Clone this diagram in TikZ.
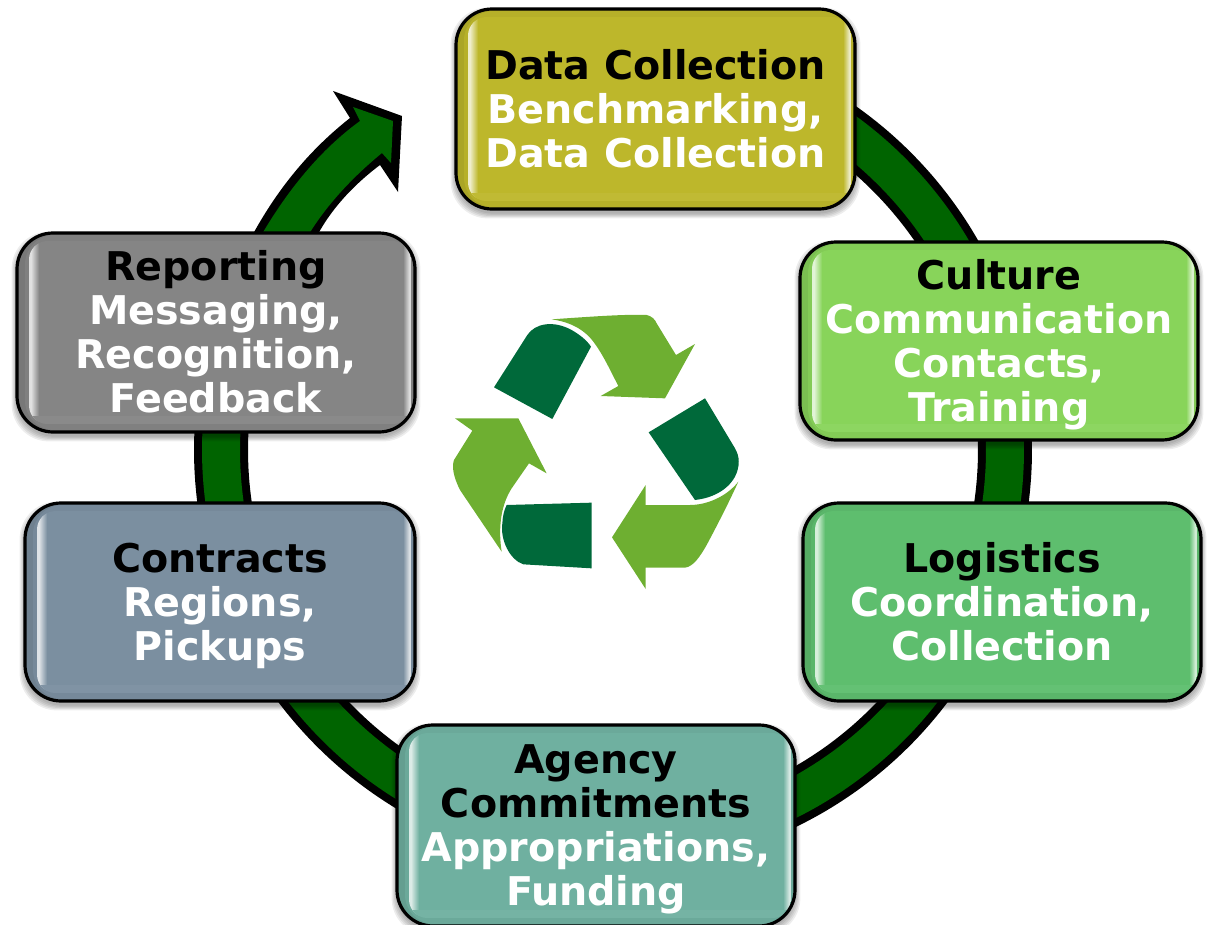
\documentclass[tikz,border=0pt]{standalone}
\usepackage{fontspec}
\setmainfont{DejaVu Sans}
\definecolor{cdata}{HTML}{BDB72B}
\definecolor{cculture}{HTML}{88D45A}
\definecolor{clog}{HTML}{5EBE6E}
\definecolor{cagency}{HTML}{6FB0A0}
\definecolor{ccontract}{HTML}{7B8FA0}
\definecolor{creport}{HTML}{858585}
\definecolor{ringgreen}{HTML}{006400}
\definecolor{leaflight}{HTML}{6EAF31}
\definecolor{leafdark}{HTML}{00693A}
\tikzset{
  ringseg/.style={draw=black,line width=6pt,double=ringgreen,double distance=28.5pt},
  boxnode/.style={draw=black,line width=2.4pt,rounded corners=27pt,inner sep=0pt,align=center,
     font=\fontsize{29.7}{33}\selectfont\bfseries,text=white},
  leafa/.style={fill=leaflight,draw=none},
  leafb/.style={fill=leafdark,draw=none}
}
\newcommand{\ringarc}[3]{\draw[ringseg] plot[domain=#1:#2,samples=60,smooth] ({613+#3*cos(\x)},{450+#3*sin(\x)});}
\newcommand{\bx}[7]{%
  \pgfmathsetmacro{\cxx}{(#2+#4)/2}\pgfmathsetmacro{\cyy}{(#3+#5)/2}
  \pgfmathsetmacro{\ww}{(#4-#2)*0.75}\pgfmathsetmacro{\hh}{(#5-#3)*0.75}
  \foreach \s in {9,7,5,3,1}{\fill[black,opacity=0.07,rounded corners=28pt] ({#2-\s*0.6},{#3+4-\s*0.6}) rectangle ({#4+\s*0.6},{#5+4+\s*0.6});}
  \fill[#6!90!black,rounded corners=27pt] (#2,#3) rectangle (#4,#5);
  \fill[#6!96!black,rounded corners=22pt] ({#2+8},{#3+2}) rectangle ({#4-2},{#5-2});
  \begin{scope}
    \clip[rounded corners=14pt] ({#2+12},{#3+8}) rectangle ({#4-4},{#5-8});
    \fill[#6] ({#2+12},{#3+8}) rectangle ({#4-4},{#5-8});
    \shade[left color=#6!25!white,right color=#6] ({#2+14},{#3+8}) rectangle ({#2+22},{#5-8});
    \fill[#6!25!white] ({#2+12},{#3+8}) rectangle ({#2+14},{#5-8});
    \shade[left color=#6,right color=#6!30!white] ({#4-12},{#3+8}) rectangle ({#4-6},{#5-8});
    \fill[#6!30!white] ({#4-6},{#3+8}) rectangle ({#4-4},{#5-8});
    \fill[#6!96!white] ({#2+12},{#5-16}) rectangle ({#4-4},{#5-8});
  \end{scope}
  \node[boxnode,minimum width=\ww pt,minimum height=\hh pt] (#1) at (\cxx,\cyy) {\rule{0pt}{28pt}#7\rule[-6.5pt]{0pt}{6.5pt}};
}
\newcommand{\hd}[1]{\textcolor{black}{#1}}
\begin{document}
\begin{tikzpicture}[x=0.75pt,y=-0.75pt]
\useasboundingbox (0,0) rectangle (1208,925);
% ring connectors
\ringarc{-83}{-16}{394}
\ringarc{-16}{21}{392}
\ringarc{21}{93}{392}
\ringarc{93}{159}{392}
\ringarc{159}{197}{392}
% returning arrow
\fill[black] (253,234) .. controls (280,185) and (312,148) .. (350,118) -- (333,91) -- (402,116) -- (398,192) -- (380,165) .. controls (360,180) and (335,203) .. (318,234) -- cycle;
\fill[ringgreen] (262,234) .. controls (288,190) and (320,150) .. (360,121) -- (353,107) -- (393,121) -- (391,163) -- (382,153) .. controls (355,175) and (328,203) .. (309,234) -- cycle;
% boxes
\bx{data}{456}{9}{855}{209}{cdata}{\hd{Data Collection}\\Benchmarking,\\Data Collection}
\bx{culture}{800}{242}{1198}{440}{cculture}{\hd{Culture}\\Communication\\Contacts,\\Training}
\bx{logistics}{803}{503}{1201}{701}{clog}{\hd{Logistics}\\Coordination,\\Collection}
\bx{agency}{397}{725}{795}{926}{cagency}{\hd{Agency}\\\hd{Commitments}\\Appropriations,\\Funding}
\bx{contracts}{25}{503}{415}{701}{ccontract}{\hd{Contracts}\\Regions,\\Pickups}
\bx{reporting}{17}{233}{415}{432}{creport}{\hd{Reporting}\\Messaging,\\Recognition,\\Feedback}
% recycling symbol
\begin{scope}[shift={(440,300)},x=0.25pt,y=-0.25pt]
\fill[leafa] (335,58) .. controls (450,50) and (560,42) .. (620,45) .. controls (635,48) and (645,58) .. (650,70) -- (708,165) -- (765,132) -- (675,295) -- (482,288) -- (535,258) .. controls (510,210) and (490,165) .. (460,125) .. controls (430,85) and (385,65) .. (335,58) -- cycle;
\fill[leafb] (162,262) -- (262,105) .. controls (285,70) and (340,60) .. (395,90) .. controls (420,105) and (440,120) .. (453,140) -- (337,357) -- cycle;
\fill[leafb] (795,295) -- (885,445) .. controls (900,470) and (900,500) .. (885,530) .. controls (860,575) and (810,595) .. (765,600) -- (626,397) -- cycle;
\fill[leafa] (895,545) .. controls (860,590) and (800,615) .. (750,615) -- (617,615) -- (617,555) -- (516,712) -- (617,867) -- (617,803) -- (735,803) .. controls (760,800) and (780,770) .. (800,735) .. controls (840,660) and (870,600) .. (895,545) -- cycle;
\fill[leafb] (200,615) -- (455,608) -- (455,805) -- (250,793) .. controls (210,780) and (180,720) .. (187,670) .. controls (188,650) and (192,630) .. (200,615) -- cycle;
\fill[leafa] (45,355) -- (235,355) -- (320,520) -- (267,490) -- (215,565) .. controls (180,620) and (175,690) .. (185,755) -- (60,570) .. controls (40,530) and (35,500) .. (42,480) -- (97,392) -- cycle;
\end{scope}
\end{tikzpicture}
\end{document}
